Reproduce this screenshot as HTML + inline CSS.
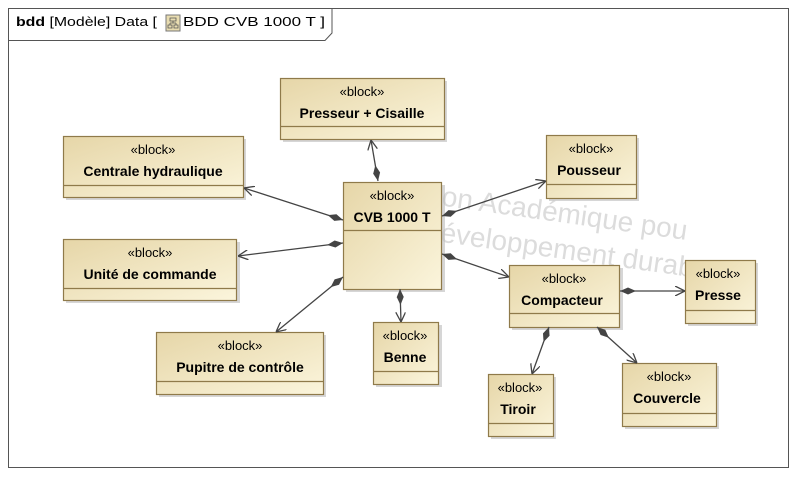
<!DOCTYPE html>
<html><head><meta charset="utf-8"><style>
html,body{margin:0;padding:0;background:#fff;}
svg{display:block;font-family:"Liberation Sans",Arial,sans-serif;}
.st{font-size:13px;fill:#000;text-anchor:middle;}
.nm{font-size:14px;font-weight:bold;fill:#000;text-anchor:middle;}
</style></head><body>
<svg width="810" height="489" viewBox="0 0 810 489" xmlns="http://www.w3.org/2000/svg">
<defs>
<linearGradient id="g" x1="0" y1="0" x2="1" y2="1">
<stop offset="0" stop-color="#e6d6a8"/><stop offset="1" stop-color="#fbf5dc"/>
</linearGradient>
<marker id="dia" viewBox="0 0 16 8" refX="0" refY="4" markerWidth="16" markerHeight="8" markerUnits="userSpaceOnUse" orient="auto">
<path d="M0,4 L8,0.5 L16,4 L8,7.5 Z" fill="#444"/>
</marker>
<marker id="arr" viewBox="0 0 10 10" refX="10" refY="5" markerWidth="10" markerHeight="10" markerUnits="userSpaceOnUse" orient="auto">
<path d="M0,0 L10,5 L0,10" fill="none" stroke="#444" stroke-width="1.3"/>
</marker>
</defs>
<rect x="0" y="0" width="810" height="489" fill="#fff"/>
<rect x="8.5" y="8.5" width="780" height="459" fill="none" stroke="#555" stroke-width="1"/>
<path d="M8.5,40.5 L325,40.5 L332,33 L332,8.5" fill="none" stroke="#555"/>
<text x="16" y="26" font-size="13" textLength="141" lengthAdjust="spacingAndGlyphs"><tspan font-weight="bold">bdd</tspan> [Modèle] Data [</text>
<rect x="166" y="15" width="14" height="16" fill="#e8dcb0" stroke="#777"/>
<path d="M170,18h6v3h-6zM168,25h4v3h-4zM174,25h4v3h-4zM173,21v2M170,23h6M170,23v2M176,23v2" fill="none" stroke="#555" stroke-width="0.8"/>
<text x="183" y="26" font-size="13" textLength="142" lengthAdjust="spacingAndGlyphs">BDD CVB 1000 T ]</text>
<g fill="#dcdcdc" font-size="28" transform="rotate(8 600 250)">
<text x="430" y="228">ion Académique pou</text>
<text x="440" y="264">éveloppement durab</text>
</g>
<g stroke="#8f7a4a" stroke-width="1.2">
<rect x="283" y="81" width="164" height="61" fill="#bbb" stroke="none" opacity="0.6"/>
<rect x="280.5" y="78.5" width="164" height="61" fill="url(#g)"/><line x1="280" y1="126.5" x2="444" y2="126.5"/>
<rect x="66" y="139" width="180" height="61" fill="#bbb" stroke="none" opacity="0.6"/>
<rect x="63.5" y="136.5" width="180" height="61" fill="url(#g)"/><line x1="63" y1="185.5" x2="243" y2="185.5"/>
<rect x="346" y="185" width="99" height="107" fill="#bbb" stroke="none" opacity="0.6"/>
<rect x="343.5" y="182.5" width="98" height="107" fill="url(#g)"/><line x1="343" y1="230.5" x2="441" y2="230.5"/>
<rect x="66" y="242" width="174" height="61" fill="#bbb" stroke="none" opacity="0.6"/>
<rect x="63.5" y="239.5" width="173" height="61" fill="url(#g)"/><line x1="63" y1="288.5" x2="236" y2="288.5"/>
<rect x="159" y="335" width="167" height="62" fill="#bbb" stroke="none" opacity="0.6"/>
<rect x="156.5" y="332.5" width="167" height="62" fill="url(#g)"/><line x1="156" y1="381.5" x2="323" y2="381.5"/>
<rect x="376" y="325" width="66" height="62" fill="#bbb" stroke="none" opacity="0.6"/>
<rect x="373.5" y="322.5" width="65" height="62" fill="url(#g)"/><line x1="373" y1="371.5" x2="438" y2="371.5"/>
<rect x="549" y="138" width="90" height="63" fill="#bbb" stroke="none" opacity="0.6"/>
<rect x="546.5" y="135.5" width="90" height="63" fill="url(#g)"/><line x1="546" y1="184.5" x2="636" y2="184.5"/>
<rect x="512" y="268" width="111" height="62" fill="#bbb" stroke="none" opacity="0.6"/>
<rect x="509.5" y="265.5" width="110" height="62" fill="url(#g)"/><line x1="509" y1="313.5" x2="619" y2="313.5"/>
<rect x="688" y="263" width="70" height="63" fill="#bbb" stroke="none" opacity="0.6"/>
<rect x="685.5" y="260.5" width="70" height="63" fill="url(#g)"/><line x1="685" y1="310.5" x2="755" y2="310.5"/>
<rect x="491" y="377" width="65" height="62" fill="#bbb" stroke="none" opacity="0.6"/>
<rect x="488.5" y="374.5" width="65" height="62" fill="url(#g)"/><line x1="488" y1="423.5" x2="553" y2="423.5"/>
<rect x="625" y="366" width="94" height="63" fill="#bbb" stroke="none" opacity="0.6"/>
<rect x="622.5" y="363.5" width="94" height="63" fill="url(#g)"/><line x1="622" y1="413.5" x2="716" y2="413.5"/>
</g>
<g stroke="#444" stroke-width="1.3" marker-start="url(#dia)" marker-end="url(#arr)" fill="none">
<line x1="378" y1="181" x2="371" y2="140"/>
<line x1="343" y1="220" x2="244" y2="188"/>
<line x1="343" y1="243" x2="238" y2="256"/>
<line x1="343" y1="277" x2="276" y2="332"/>
<line x1="400" y1="289" x2="401" y2="322"/>
<line x1="442" y1="216" x2="546" y2="181"/>
<line x1="442" y1="254" x2="509" y2="277"/>
<line x1="620" y1="291" x2="685" y2="291"/>
<line x1="549" y1="327" x2="532" y2="374"/>
<line x1="597" y1="327" x2="637" y2="363"/>
</g>
<text class="st" x="362" y="96">«block»</text><text class="nm" x="362" y="118">Presseur + Cisaille</text>
<text class="st" x="153" y="154">«block»</text><text class="nm" x="153" y="176">Centrale hydraulique</text>
<text class="st" x="392" y="200">«block»</text><text class="nm" x="392" y="222">CVB 1000 T</text>
<text class="st" x="150" y="257">«block»</text><text class="nm" x="150" y="279">Unité de commande</text>
<text class="st" x="240" y="350">«block»</text><text class="nm" x="240" y="372">Pupitre de contrôle</text>
<text class="st" x="405" y="340">«block»</text><text class="nm" x="405" y="362">Benne</text>
<text class="st" x="591" y="153">«block»</text><text class="nm" x="589" y="175">Pousseur</text>
<text class="st" x="564" y="283">«block»</text><text class="nm" x="562" y="305">Compacteur</text>
<text class="st" x="718" y="278">«block»</text><text class="nm" x="718" y="300">Presse</text>
<text class="st" x="520" y="392">«block»</text><text class="nm" x="518" y="414">Tiroir</text>
<text class="st" x="669" y="381">«block»</text><text class="nm" x="667" y="403">Couvercle</text>
</svg>
</body></html>
